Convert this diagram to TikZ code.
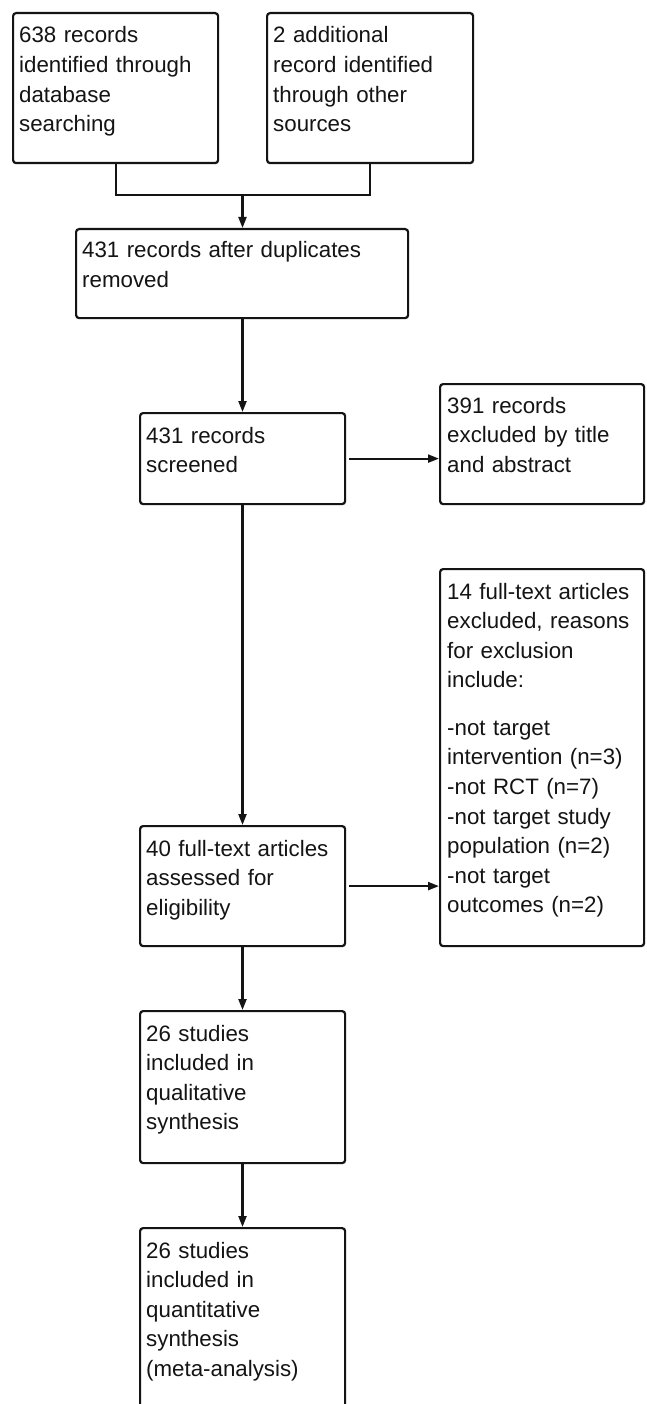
\documentclass[tikz,border=0pt]{standalone}
\usepackage{fontspec}
\setmainfont{Liberation Sans}
\usetikzlibrary{arrows.meta,calc}
\definecolor{ink}{HTML}{141414}
\begin{document}
\begin{tikzpicture}[x=1pt,y=-1pt,
  box/.style={draw=ink, line width=2.2pt, rounded corners=3pt, inner sep=0pt, anchor=north west},
  txt/.style={anchor=base west, inner sep=0pt, text width=200pt, align=left, text=ink,
    font=\fontsize{22.3pt}{29.6pt}\selectfont},
  arr/.style={draw=ink, line width=2.2pt, -{Triangle[length=11pt,width=8pt]}},
  conn/.style={draw=ink, line width=2.2pt}]
\useasboundingbox (0,0) rectangle (646,1404);
\fill[white] (0,0) rectangle (646,1404);

\node[box, minimum width=205pt, minimum height=150pt] (a) at (12,12) {};
\node[box, minimum width=206pt, minimum height=150pt] (b) at (266,12) {};
\node[box, minimum width=332pt, minimum height=89pt] (c) at (75,228) {};
\node[box, minimum width=205pt, minimum height=91pt] (d) at (139,412) {};
\node[box, minimum width=204pt, minimum height=120pt] (e) at (439,383) {};
\node[box, minimum width=204pt, minimum height=377pt] (f) at (439,568) {};
\node[box, minimum width=205pt, minimum height=120pt] (g) at (139,825) {};
\node[box, minimum width=205pt, minimum height=152pt] (h) at (139,1010) {};
\node[box, minimum width=205pt, minimum height=260pt] (i) at (139,1227) {};

\node[txt] (ta) at ($(a.north west)+(7,31)$) {638 records\\identified through\\database\\searching};
\node[txt] (tb) at ($(b.north west)+(7,31)$) {2 additional\\record identified\\through other\\sources};
\node[txt, text width=320pt] (tc) at ($(c.north west)+(7,30)$) {431 records after duplicates\\removed};
\node[txt] (td) at ($(d.north west)+(7,31)$) {431 records\\screened};
\node[txt] (te) at ($(e.north west)+(8,30)$) {391 records\\excluded by title\\and abstract};
\node[txt] (tf) at ($(f.north west)+(8,31)$) {14 full-text articles\\excluded, reasons\\for exclusion\\include:\\[17.8pt]-not target\\intervention (n=3)\\-not RCT (n=7)\\-not target study\\population (n=2)\\-not target\\outcomes (n=2)};
\node[txt] (tg) at ($(g.north west)+(7,31)$) {40 full-text articles\\assessed for\\eligibility};
\node[txt] (th) at ($(h.north west)+(7,31)$) {26 studies\\included in\\qualitative\\synthesis};
\node[txt] (ti) at ($(i.north west)+(7,31)$) {26 studies\\included in\\quantitative\\synthesis\\(meta-analysis)};

\coordinate (j) at (242.5,195);
\draw[conn] (a.south) |- (j) -| (b.south);
\draw[arr] (j) -- (j |- c.north);
\draw[arr] (c.south -| j) -- (j |- d.north);
\draw[arr] ($(d.east)+(3,0)$) -- (d.east -| e.west);
\draw[arr] (j |- d.south) -- (j |- g.north);
\draw[arr] ($(g.east)+(3,0)$) -- (g.east -| f.west);
\draw[arr] (j |- g.south) -- (j |- h.north);
\draw[arr] (j |- h.south) -- (j |- i.north);
\end{tikzpicture}
\end{document}
